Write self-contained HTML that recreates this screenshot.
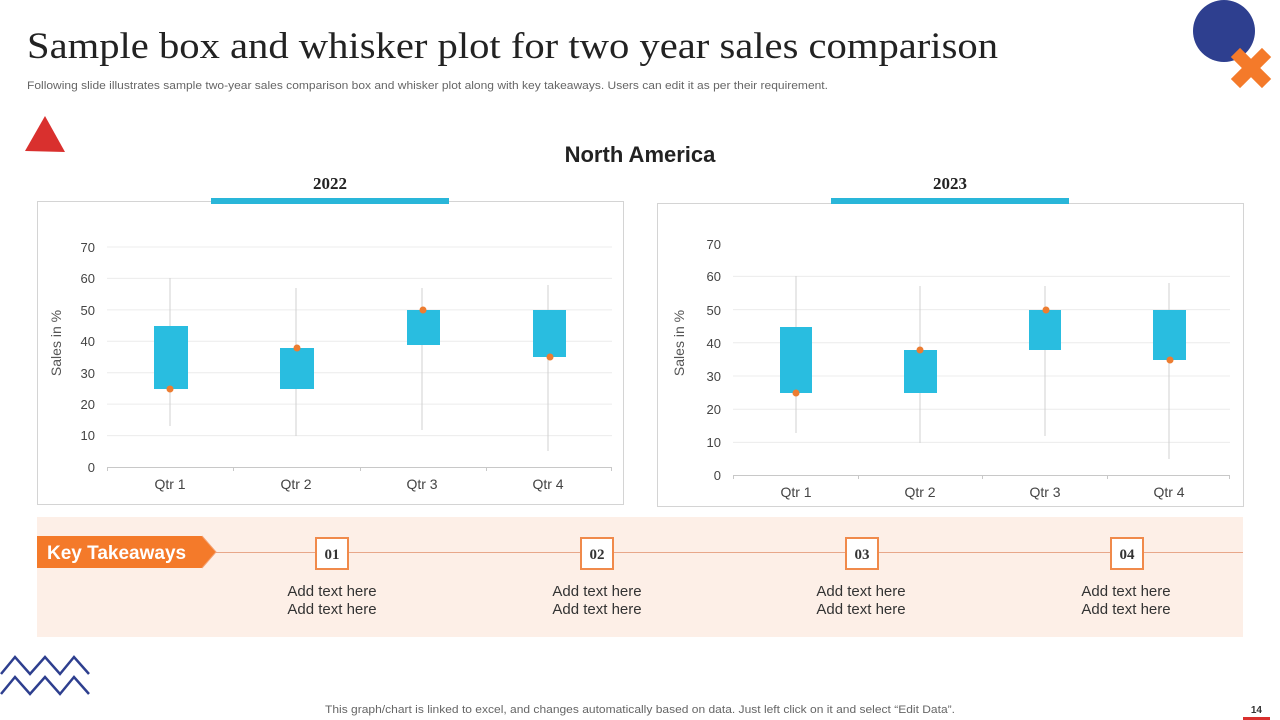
<!DOCTYPE html>
<html><head><meta charset="utf-8"><style>
html,body{margin:0;padding:0;background:#fff;}
svg{display:block;font-family:"Liberation Sans",sans-serif;}
</style></head><body>
<svg width="1280" height="720" viewBox="0 0 1280 720" xmlns="http://www.w3.org/2000/svg">
<text x="27" y="58" font-family="Liberation Serif,serif" font-size="37" fill="#222" textLength="971" lengthAdjust="spacingAndGlyphs">Sample box and whisker plot for two year sales comparison</text>
<text x="27" y="89" font-size="11" fill="#666" textLength="801" lengthAdjust="spacingAndGlyphs">Following slide illustrates sample two-year sales comparison box and whisker plot along with key takeaways. Users can edit it as per their requirement.</text>
<circle cx="1224" cy="31" r="31" fill="#2e3f8f"/>
<g transform="translate(1251,68) rotate(45)" fill="#f47a2a"><rect x="-22" y="-6.5" width="44" height="13"/><rect x="-6.5" y="-22" width="13" height="44"/></g>
<polygon points="45,116 65,152 25,151" fill="#d9302e"/>
<text x="640" y="162" text-anchor="middle" font-size="22" font-weight="bold" fill="#222">North America</text>

<!-- chart 1 -->
<text x="330" y="189" text-anchor="middle" font-family="Liberation Serif,serif" font-weight="bold" font-size="17" fill="#222">2022</text>
<rect x="37.5" y="201.5" width="586" height="303" fill="#fff" stroke="#d4d4d4"/>
<rect x="211" y="198" width="238" height="6" fill="#29b6d9"/>
<g stroke="#ececec" stroke-width="1">
<line x1="107" x2="612" y1="247" y2="247"/><line x1="107" x2="612" y1="278.4" y2="278.4"/><line x1="107" x2="612" y1="309.9" y2="309.9"/><line x1="107" x2="612" y1="341.3" y2="341.3"/><line x1="107" x2="612" y1="372.7" y2="372.7"/><line x1="107" x2="612" y1="404.1" y2="404.1"/><line x1="107" x2="612" y1="435.6" y2="435.6"/>
</g>
<line x1="107" x2="612" y1="467.5" y2="467.5" stroke="#c8c8c8"/>
<g stroke="#c8c8c8"><line x1="107.5" x2="107.5" y1="467" y2="471"/><line x1="233.5" x2="233.5" y1="467" y2="471"/><line x1="360.5" x2="360.5" y1="467" y2="471"/><line x1="486.5" x2="486.5" y1="467" y2="471"/><line x1="611.5" x2="611.5" y1="467" y2="471"/></g>
<g font-size="13" fill="#444" text-anchor="end">
<text x="95" y="252">70</text><text x="95" y="283">60</text><text x="95" y="315">50</text><text x="95" y="346">40</text><text x="95" y="378">30</text><text x="95" y="409">20</text><text x="95" y="440">10</text><text x="95" y="472">0</text></g>
<text transform="translate(61,343) rotate(-90)" text-anchor="middle" font-size="14" fill="#555">Sales in %</text>
<g font-size="14" fill="#444" text-anchor="middle"><text x="170" y="489">Qtr 1</text><text x="296" y="489">Qtr 2</text><text x="422" y="489">Qtr 3</text><text x="548" y="489">Qtr 4</text></g>
<g stroke="#d0d0d0"><line x1="170" x2="170" y1="278" y2="426"/><line x1="296" x2="296" y1="288" y2="436"/><line x1="422" x2="422" y1="288" y2="430"/><line x1="548" x2="548" y1="285" y2="451"/></g>
<g fill="#29bde0"><rect x="154" y="326" width="34" height="63"/><rect x="280" y="348" width="34" height="41"/><rect x="407" y="310" width="33" height="35"/><rect x="533" y="310" width="33" height="47"/></g>
<g fill="#ed7d31"><circle cx="170" cy="389" r="3.5"/><circle cx="297" cy="348" r="3.5"/><circle cx="423" cy="310" r="3.5"/><circle cx="550" cy="357" r="3.5"/></g>

<!-- chart 2 -->
<text x="950" y="189" text-anchor="middle" font-family="Liberation Serif,serif" font-weight="bold" font-size="17" fill="#222">2023</text>
<rect x="657.5" y="203.5" width="586" height="303" fill="#fff" stroke="#d4d4d4"/>
<rect x="831" y="198" width="238" height="6" fill="#29b6d9"/>
<g stroke="#ececec"><line x1="733" x2="1230" y1="276.4" y2="276.4"/><line x1="733" x2="1230" y1="309.6" y2="309.6"/><line x1="733" x2="1230" y1="342.8" y2="342.8"/><line x1="733" x2="1230" y1="376" y2="376"/><line x1="733" x2="1230" y1="409.2" y2="409.2"/><line x1="733" x2="1230" y1="442.4" y2="442.4"/></g>
<line x1="733" x2="1230" y1="475.5" y2="475.5" stroke="#c8c8c8"/>
<g stroke="#c8c8c8"><line x1="733.5" x2="733.5" y1="475" y2="479"/><line x1="858.5" x2="858.5" y1="475" y2="479"/><line x1="982.5" x2="982.5" y1="475" y2="479"/><line x1="1107.5" x2="1107.5" y1="475" y2="479"/><line x1="1229.5" x2="1229.5" y1="475" y2="479"/></g>
<g font-size="13" fill="#444" text-anchor="end">
<text x="721" y="249">70</text><text x="721" y="281">60</text><text x="721" y="315">50</text><text x="721" y="348">40</text><text x="721" y="381">30</text><text x="721" y="414">20</text><text x="721" y="447">10</text><text x="721" y="480">0</text></g>
<text transform="translate(684,343) rotate(-90)" text-anchor="middle" font-size="14" fill="#555">Sales in %</text>
<g font-size="14" fill="#444" text-anchor="middle"><text x="796" y="497">Qtr 1</text><text x="920" y="497">Qtr 2</text><text x="1045" y="497">Qtr 3</text><text x="1169" y="497">Qtr 4</text></g>
<g stroke="#d0d0d0"><line x1="796" x2="796" y1="276" y2="433"/><line x1="920" x2="920" y1="286" y2="443"/><line x1="1045" x2="1045" y1="286" y2="436"/><line x1="1169" x2="1169" y1="283" y2="459"/></g>
<g fill="#29bde0"><rect x="780" y="327" width="32" height="66"/><rect x="904" y="350" width="33" height="43"/><rect x="1029" y="310" width="32" height="40"/><rect x="1153" y="310" width="33" height="50"/></g>
<g fill="#ed7d31"><circle cx="796" cy="393" r="3.5"/><circle cx="920" cy="350" r="3.5"/><circle cx="1046" cy="310" r="3.5"/><circle cx="1170" cy="360" r="3.5"/></g>

<!-- takeaways -->
<rect x="37" y="517" width="1206" height="120" fill="#fdefe7"/>
<line x1="215" x2="1243" y1="552.5" y2="552.5" stroke="#e8a78a"/>
<polygon points="37,536 202,536 216,552 202,568 37,568" fill="#f47a2a"/>
<polyline points="202,536 216,552 202,568" fill="none" stroke="#f4a070"/>
<text x="47" y="559" font-size="19" font-weight="bold" fill="#fff">Key Takeaways</text>
<g font-family="Liberation Serif,serif" font-weight="bold" font-size="15" fill="#333" text-anchor="middle">
<rect x="316" y="538" width="32" height="31" fill="#fff" stroke="#f08a4b" stroke-width="2"/><text x="332" y="559">01</text>
<rect x="581" y="538" width="32" height="31" fill="#fff" stroke="#f08a4b" stroke-width="2"/><text x="597" y="559">02</text>
<rect x="846" y="538" width="32" height="31" fill="#fff" stroke="#f08a4b" stroke-width="2"/><text x="862" y="559">03</text>
<rect x="1111" y="538" width="32" height="31" fill="#fff" stroke="#f08a4b" stroke-width="2"/><text x="1127" y="559">04</text>
</g>
<g font-size="15" fill="#333" text-anchor="middle">
<text x="332" y="596">Add text here</text><text x="332" y="614">Add text here</text>
<text x="597" y="596">Add text here</text><text x="597" y="614">Add text here</text>
<text x="861" y="596">Add text here</text><text x="861" y="614">Add text here</text>
<text x="1126" y="596">Add text here</text><text x="1126" y="614">Add text here</text>
</g>
<g fill="none" stroke="#2e3f8f" stroke-width="2.5"><polyline points="1,674 15,657 30,674 45,657 60,674 74,657 89,674"/><polyline points="1,694 15,677 30,694 45,677 60,694 74,677 89,694"/></g>
<text x="640" y="713" text-anchor="middle" font-size="11" fill="#666" textLength="630" lengthAdjust="spacingAndGlyphs">This graph/chart is linked to excel, and changes automatically based on data. Just left click on it and select “Edit Data”.</text>
<line x1="1243" x2="1270" y1="718.5" y2="718.5" stroke="#d9302e" stroke-width="3"/>
<text x="1262" y="713" text-anchor="end" font-size="10" font-weight="bold" fill="#333">14</text>
</svg>
</body></html>
